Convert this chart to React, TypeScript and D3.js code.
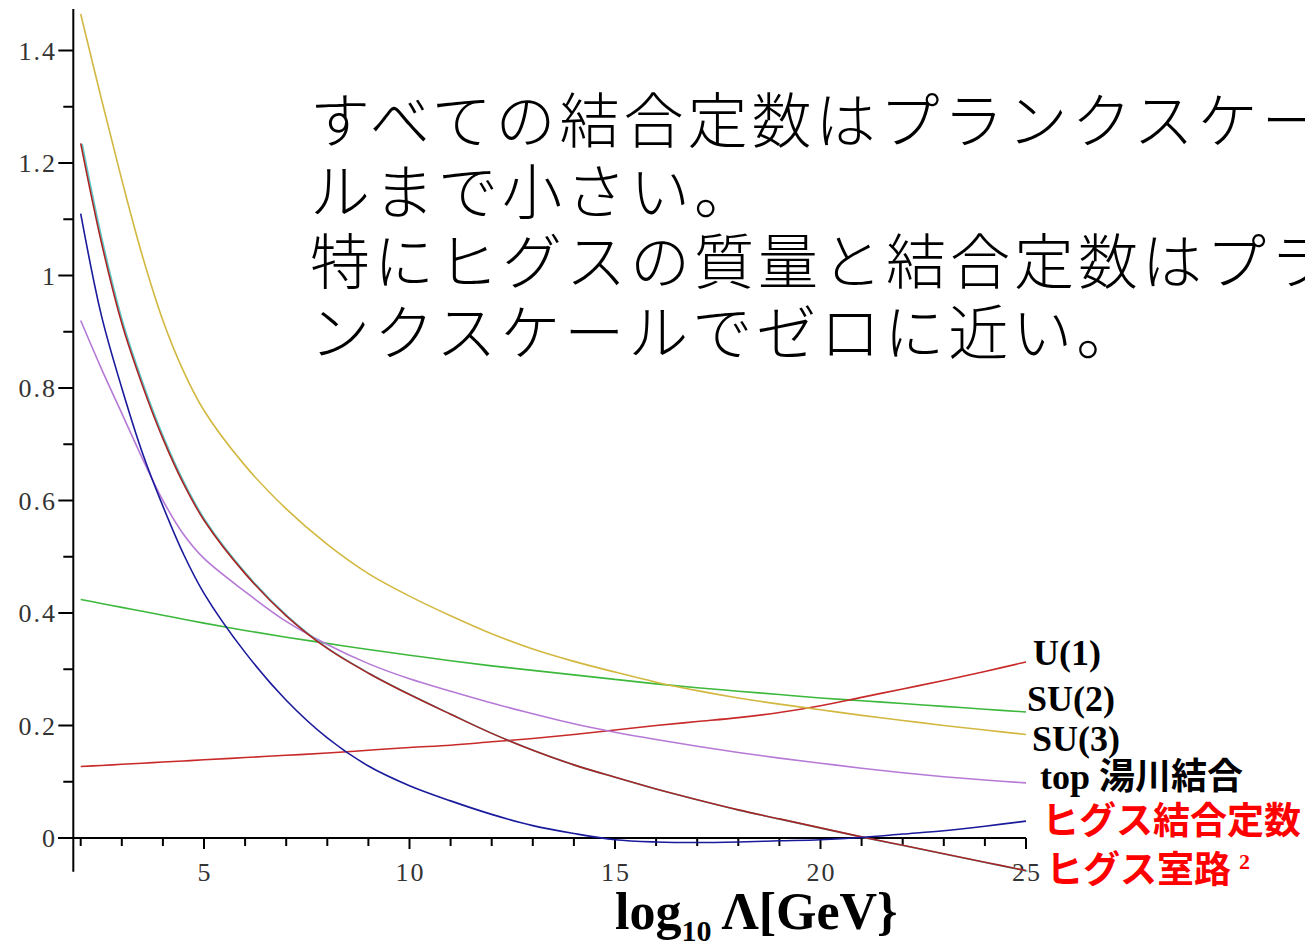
import * as d3 from "d3";

// log10 of the scale, the x positions the curves were read at
const logScale = [2, 2.5, 3, 3.5, 4, 4.5, 5, 6, 7, 8, 9, 10, 11, 12, 13, 14, 15, 16, 17, 18, 19, 20, 21, 22, 23, 24, 25];

const u1 = [0.127, 0.129, 0.131, 0.133, 0.135, 0.137, 0.139, 0.143, 0.147, 0.151, 0.156, 0.161, 0.165, 0.171, 0.177, 0.184, 0.192, 0.2, 0.207, 0.214, 0.223, 0.235, 0.25, 0.265, 0.28, 0.296, 0.313];
const su2 = [0.424, 0.417, 0.41, 0.403, 0.396, 0.389, 0.382, 0.369, 0.357, 0.346, 0.335, 0.325, 0.315, 0.306, 0.298, 0.29, 0.282, 0.274, 0.267, 0.261, 0.255, 0.249, 0.244, 0.239, 0.234, 0.229, 0.224];
const su3 = [1.465, 1.315, 1.17, 1.035, 0.92, 0.83, 0.76, 0.662, 0.585, 0.522, 0.47, 0.43, 0.395, 0.363, 0.336, 0.314, 0.295, 0.277, 0.262, 0.249, 0.238, 0.228, 0.218, 0.209, 0.2, 0.192, 0.184];
const topYukawa = [0.92, 0.835, 0.755, 0.675, 0.6, 0.54, 0.497, 0.438, 0.385, 0.344, 0.31, 0.283, 0.261, 0.24, 0.221, 0.203, 0.188, 0.175, 0.163, 0.152, 0.142, 0.133, 0.124, 0.116, 0.109, 0.103, 0.098];
const higgsCoupling = [1.11, 0.93, 0.8, 0.685, 0.59, 0.505, 0.435, 0.33, 0.245, 0.178, 0.128, 0.093, 0.066, 0.042, 0.022, 0.008, -0.003, -0.007, -0.008, -0.007, -0.005, -0.003, 0.001, 0.007, 0.013, 0.021, 0.03];
const higgsMass = [1.235, 1.06, 0.915, 0.805, 0.71, 0.63, 0.565, 0.47, 0.395, 0.337, 0.293, 0.255, 0.22, 0.186, 0.156, 0.13, 0.108, 0.087, 0.068, 0.05, 0.034, 0.018, 0.002, -0.013, -0.028, -0.043, -0.058];

const xMajor = [5, 10, 15, 20, 25];
const xMinor = d3.range(2, 26);
const yMajor = [0, 0.2, 0.4, 0.6, 0.8, 1, 1.2, 1.4];
const yMinor = [0.1, 0.3, 0.5, 0.7, 0.9, 1.1, 1.3];

const noteLines = [
  "すべての結合定数はプランクスケー",
  "ルまで小さい。",
  "特にヒグスの質量と結合定数はプラ",
  "ンクスケールでゼロに近い。",
];

const serif = "'Liberation Serif', 'Times New Roman', serif";
const cjk = "'Noto Sans CJK JP', sans-serif";

export default function App() {
  const x = d3.scaleLinear().domain([5, 25]).range([204, 1026]);
  const y = d3.scaleLinear().domain([0, 1.4]).range([838, 50.5]);

  const line = (vals) =>
    d3
      .line()
      .x((_, i) => x(logScale[i]))
      .y((d) => y(d))
      .curve(d3.curveCatmullRom.alpha(0.5))(vals);

  const curves = [
    { vals: su2, color: "#3cb83c" },
    { vals: u1, color: "#c82a2a" },
    { vals: su3, color: "#d2b840" },
    { vals: topYukawa, color: "#b67ad6" },
  ];

  const axisX = x(1.82);

  return (
    <svg
      width={1305}
      height={947}
      style={{ position: "absolute", left: 0, top: 0, background: "#fff" }}
    >
      {/* axes */}
      <g stroke="#000" strokeWidth={2}>
        <line x1={axisX} x2={axisX} y1={y(1.474)} y2={y(-0.06)} />
        <line x1={58} x2={x(25)} y1={y(0)} y2={y(0)} />
        {yMajor.map((v) => (
          <line key={"ym" + v} x1={axisX - 15} x2={axisX} y1={y(v)} y2={y(v)} />
        ))}
        {yMinor.map((v) => (
          <line key={"yn" + v} x1={axisX - 10} x2={axisX} y1={y(v)} y2={y(v)} />
        ))}
        {xMinor.map((v) => (
          <line
            key={"xn" + v}
            x1={x(v)}
            x2={x(v)}
            y1={y(0)}
            y2={y(0) + (xMajor.includes(v) ? 11 : 8)}
          />
        ))}
      </g>
      <g fontFamily={serif} fontSize={26} fill="#333" letterSpacing={2}>
        {yMajor.map((v) => (
          <text key={"yl" + v} x={57} y={y(v) + 9} textAnchor="end">
            {d3.format("~g")(v)}
          </text>
        ))}
        {xMajor.map((v) => (
          <text key={"xl" + v} x={x(v) + 1} y={881} textAnchor="middle">
            {v}
          </text>
        ))}
      </g>

      {/* curves */}
      <g fill="none" strokeWidth={1.6}>
        {curves.map((c, i) => (
          <path key={i} d={line(c.vals)} stroke={c.color} />
        ))}
        <path d={line(higgsMass)} stroke="#5cc8c8" transform="translate(1.5,0.5)" />
        <path d={line(higgsMass)} stroke="#a82424" />
        <path d={line(higgsCoupling)} stroke="#1a1a9c" />
      </g>

      {/* note */}
      <g fontFamily={cjk} fontSize={60} fontWeight={300} fill="#000" letterSpacing={4}>
        {noteLines.map((t, i) => (
          <text key={i} x={310} y={143 + i * 70.5}>
            {t}
          </text>
        ))}
      </g>

      {/* labels */}
      <g fontFamily={serif} fontWeight="bold" fontSize={36} fill="#000">
        <text x={1033} y={665}>U(1)</text>
        <text x={1027} y={711}>SU(2)</text>
        <text x={1032} y={751}>SU(3)</text>
        <text x={1040} y={789}>
          top <tspan fontFamily={cjk}>湯川結合</tspan>
        </text>
      </g>
      <g fontFamily={cjk} fontWeight="bold" fontSize={37} fill="#ff0000">
        <text x={1042} y={834}>ヒグス結合定数</text>
        <text x={1046} y={883}>
          ヒグス室路
          <tspan fontFamily={serif} fontSize={22} dx={8} dy={-14}>2</tspan>
        </text>
      </g>

      <text x={615} y={929} fontFamily={serif} fontWeight="bold" fontSize={52} fill="#000">
        log
        <tspan fontSize={30} dy={12}>10</tspan>
        <tspan dy={-12} dx={10}>{"Λ[GeV}"}</tspan>
      </text>
    </svg>
  );
}
